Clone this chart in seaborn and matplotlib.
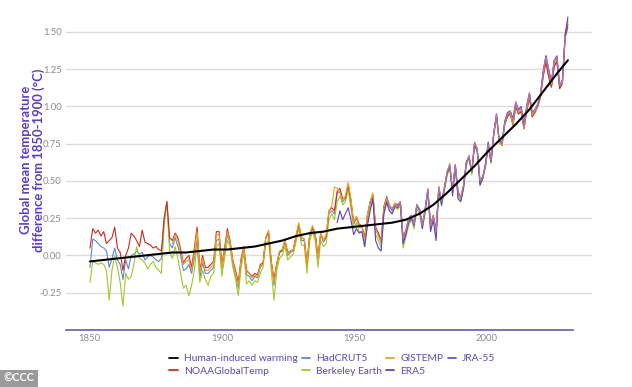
import numpy as np
import pandas as pd
import matplotlib.pyplot as plt
from matplotlib.lines import Line2D
import seaborn as sns

# annual anomalies vs 1850-1900 (degC)
hadcrut5 = [
    -0.08, 0.11, 0.10, 0.08, 0.06, 0.05, 0.03, -0.08, -0.02, 0.05,
    -0.03, -0.06, -0.16, -0.03, -0.09, 0.00, 0.01, 0.03, 0.01, 0.02,
    -0.03, -0.01, 0.00, -0.01, -0.03, -0.04, -0.02, 0.24, 0.36, 0.08,
    0.05, 0.12, 0.06, 0.00, -0.10, -0.09, -0.06, -0.12, -0.02, 0.10,
    -0.15, -0.05, -0.12, -0.12, -0.10, -0.08, 0.10, 0.11, -0.09, 0.02,
    0.14, 0.08, -0.06, -0.14, -0.22, -0.05, 0.04, -0.13, -0.14, -0.17,
    -0.14, -0.15, -0.08, -0.06, 0.12, 0.15, -0.05, -0.20, -0.06, 0.02,
    0.03, 0.09, 0.00, 0.02, 0.03, 0.12, 0.20, 0.10, 0.10, -0.08,
    0.13, 0.18, 0.13, -0.03, 0.14, 0.09, 0.12, 0.28, 0.30, 0.28,
    0.42, 0.43, 0.36, 0.38, 0.48, 0.36, 0.21, 0.25, 0.19, 0.19,
    0.11, 0.26, 0.35, 0.40, 0.18, 0.14, 0.08, 0.31, 0.38, 0.33,
    0.30, 0.34, 0.33, 0.36, 0.10, 0.16, 0.23, 0.26, 0.21, 0.33,
    0.30, 0.20, 0.30, 0.43, 0.20, 0.26, 0.16, 0.45, 0.35, 0.44,
    0.54, 0.60, 0.43, 0.60, 0.42, 0.38, 0.46, 0.61, 0.66, 0.55,
    0.75, 0.70, 0.49, 0.52, 0.60, 0.74, 0.62, 0.81, 0.93, 0.76,
    0.74, 0.88, 0.94, 0.96, 0.87, 1.00, 0.95, 0.97, 0.85, 0.97,
    1.06, 0.93, 0.96, 1.00, 1.06, 1.21, 1.30, 1.20, 1.13, 1.27,
    1.30, 1.12, 1.15, 1.46, 1.53]

noaa = [
    0.05, 0.18, 0.15, 0.17, 0.13, 0.16, 0.08, 0.10, 0.12, 0.19,
    0.05, 0.02, -0.10, 0.00, 0.05, 0.15, 0.13, 0.10, 0.06, 0.17,
    0.09, 0.08, 0.07, 0.05, 0.06, 0.04, 0.03, 0.25, 0.36, 0.12,
    0.10, 0.15, 0.12, 0.04, -0.05, -0.02, 0.00, -0.08, 0.05, 0.19,
    -0.10, 0.00, -0.08, -0.08, -0.06, -0.04, 0.16, 0.16, -0.06, 0.05,
    0.18, 0.10, -0.03, -0.10, -0.18, -0.02, 0.06, -0.10, -0.12, -0.14,
    -0.12, -0.13, -0.06, -0.05, 0.12, 0.16, -0.04, -0.16, -0.05, 0.02,
    0.04, 0.10, 0.02, 0.03, 0.04, 0.13, 0.21, 0.12, 0.11, -0.05,
    0.14, 0.19, 0.15, -0.01, 0.15, 0.10, 0.13, 0.30, 0.32, 0.30,
    0.43, 0.45, 0.38, 0.39, 0.47, 0.37, 0.22, 0.26, 0.21, 0.20,
    0.12, 0.27, 0.36, 0.41, 0.19, 0.15, 0.10, 0.33, 0.39, 0.34,
    0.31, 0.35, 0.34, 0.36, 0.12, 0.17, 0.25, 0.27, 0.22, 0.34,
    0.31, 0.21, 0.31, 0.44, 0.21, 0.27, 0.17, 0.46, 0.36, 0.45,
    0.55, 0.60, 0.44, 0.61, 0.43, 0.39, 0.47, 0.62, 0.66, 0.56,
    0.74, 0.70, 0.50, 0.53, 0.60, 0.73, 0.63, 0.82, 0.94, 0.76,
    0.74, 0.88, 0.93, 0.95, 0.88, 1.00, 0.95, 0.96, 0.85, 0.97,
    1.06, 0.93, 0.96, 1.00, 1.06, 1.20, 1.30, 1.20, 1.13, 1.27,
    1.30, 1.12, 1.16, 1.47, 1.55]

berkeley = [
    -0.18, -0.04, -0.05, -0.06, -0.05, -0.06, -0.10, -0.30, -0.10, 0.00,
    -0.08, -0.18, -0.34, -0.12, -0.16, -0.14, -0.06, 0.06, -0.02, -0.03,
    -0.05, -0.09, -0.06, -0.04, -0.08, -0.10, -0.12, 0.20, 0.36, 0.02,
    -0.02, 0.06, -0.02, -0.12, -0.22, -0.20, -0.27, -0.20, -0.10, 0.08,
    -0.18, -0.10, -0.16, -0.20, -0.14, -0.12, 0.06, 0.08, -0.14, -0.02,
    0.10, 0.06, -0.08, -0.16, -0.27, -0.08, 0.02, -0.19, -0.17, -0.20,
    -0.17, -0.18, -0.12, -0.08, 0.08, 0.10, -0.10, -0.30, -0.10, -0.02,
    0.00, 0.06, -0.03, -0.01, 0.01, 0.09, 0.18, 0.07, 0.07, -0.12,
    0.10, 0.16, 0.10, -0.08, 0.10, 0.06, 0.08, 0.24, 0.28, 0.24,
    0.36, 0.40, 0.34, 0.36, 0.44, 0.32, 0.18, 0.22, 0.16, 0.16,
    0.06, 0.22, 0.32, 0.38, 0.14, 0.10, 0.05, 0.28, 0.35, 0.30,
    0.28, 0.32, 0.31, 0.33, 0.05, 0.12, 0.20, 0.24, 0.18, 0.31,
    0.28, 0.18, 0.28, 0.42, 0.18, 0.24, 0.14, 0.44, 0.33, 0.43,
    0.53, 0.59, 0.42, 0.59, 0.40, 0.37, 0.45, 0.60, 0.66, 0.54,
    0.76, 0.71, 0.48, 0.51, 0.60, 0.76, 0.62, 0.80, 0.94, 0.76,
    0.74, 0.89, 0.95, 0.96, 0.87, 1.01, 0.96, 0.99, 0.86, 0.98,
    1.08, 0.94, 0.97, 1.01, 1.07, 1.22, 1.32, 1.22, 1.14, 1.28,
    1.32, 1.13, 1.16, 1.48, 1.57]

gistemp = [  # from 1880
    0.08, 0.14, 0.10, 0.02, -0.06, -0.04, -0.03, -0.10, 0.02, 0.16,
    -0.11, -0.02, -0.10, -0.10, -0.08, -0.06, 0.14, 0.14, -0.08, 0.04,
    0.16, 0.09, -0.04, -0.12, -0.20, -0.03, 0.05, -0.11, -0.12, -0.15,
    -0.13, -0.14, -0.07, -0.06, 0.12, 0.17, -0.04, -0.18, -0.06, 0.03,
    0.04, 0.10, 0.01, 0.03, 0.04, 0.13, 0.22, 0.12, 0.11, -0.06,
    0.14, 0.20, 0.15, -0.02, 0.15, 0.10, 0.14, 0.30, 0.33, 0.46,
    0.45, 0.42, 0.37, 0.40, 0.49, 0.38, 0.22, 0.26, 0.20, 0.20,
    0.10, 0.27, 0.36, 0.42, 0.18, 0.13, 0.09, 0.32, 0.38, 0.34,
    0.30, 0.35, 0.33, 0.36, 0.10, 0.15, 0.24, 0.26, 0.21, 0.34,
    0.31, 0.20, 0.30, 0.44, 0.20, 0.26, 0.16, 0.46, 0.36, 0.45,
    0.56, 0.62, 0.44, 0.61, 0.42, 0.38, 0.47, 0.62, 0.67, 0.56,
    0.76, 0.72, 0.50, 0.52, 0.61, 0.75, 0.63, 0.81, 0.94, 0.76,
    0.74, 0.89, 0.95, 0.96, 0.88, 1.02, 0.96, 0.98, 0.85, 0.98,
    1.08, 0.94, 0.97, 1.00, 1.07, 1.22, 1.34, 1.24, 1.15, 1.30,
    1.33, 1.14, 1.16, 1.49, 1.58]

era5 = [  # from 1940
    0.22, 0.30, 0.24, 0.28, 0.32, 0.24, 0.14, 0.18, 0.15, 0.16,
    0.06, 0.20, 0.30, 0.38, 0.10, 0.05, 0.03, 0.28, 0.36, 0.30,
    0.28, 0.33, 0.32, 0.35, 0.08, 0.14, 0.22, 0.25, 0.20, 0.34,
    0.30, 0.18, 0.30, 0.44, 0.16, 0.24, 0.10, 0.44, 0.34, 0.45,
    0.56, 0.60, 0.40, 0.60, 0.38, 0.36, 0.45, 0.63, 0.66, 0.56,
    0.75, 0.70, 0.47, 0.52, 0.62, 0.76, 0.63, 0.82, 0.95, 0.77,
    0.76, 0.90, 0.96, 0.97, 0.92, 1.03, 0.98, 1.00, 0.87, 1.01,
    1.09, 0.96, 0.98, 1.01, 1.08, 1.24, 1.34, 1.25, 1.17, 1.31,
    1.34, 1.14, 1.18, 1.48, 1.60]

jra55 = [  # 1958-2023
    0.40, 0.33,
    0.30, 0.34, 0.33, 0.36, 0.12, 0.16, 0.24, 0.27, 0.21, 0.34,
    0.31, 0.20, 0.31, 0.45, 0.20, 0.26, 0.16, 0.46, 0.36, 0.45,
    0.56, 0.61, 0.44, 0.61, 0.42, 0.39, 0.47, 0.62, 0.67, 0.56,
    0.76, 0.71, 0.50, 0.53, 0.61, 0.75, 0.64, 0.82, 0.95, 0.77,
    0.75, 0.89, 0.95, 0.97, 0.90, 1.03, 0.97, 0.99, 0.86, 1.00,
    1.09, 0.95, 0.98, 1.02, 1.08, 1.23, 1.33, 1.24, 1.16, 1.31,
    1.33, 1.14, 1.17, 1.48]

human_years = list(range(1850, 2021, 5)) + [2024]
human = [-0.04, -0.03, -0.02, -0.01, 0.00, 0.01, 0.02, 0.02, 0.03, 0.04,
         0.04, 0.05, 0.06, 0.08, 0.10, 0.13, 0.15, 0.16, 0.18, 0.19,
         0.20, 0.21, 0.22, 0.24, 0.28, 0.34, 0.42, 0.51, 0.60, 0.70,
         0.79, 0.88, 0.98, 1.10, 1.22, 1.31]

series = [
    ('HadCRUT5', 1850, hadcrut5, '#5f86d4'),
    ('Berkeley Earth', 1850, berkeley, '#a2c62c'),
    ('NOAAGlobalTemp', 1850, noaa, '#d7261e'),
    ('GISTEMP', 1880, gistemp, '#eba21c'),
    ('ERA5', 1940, era5, '#5b3fd0'),
    ('JRA-55', 1958, jra55, '#b07aac'),
]
colors = {name: col for name, _, _, col in series}
colors['Human-induced warming'] = 'black'
legend_colors = dict(colors, **{'JRA-55': '#6a55c8'})

sns.set_style('white')
plt.rcParams['font.family'] = ['Lato', 'DejaVu Sans']

fig = plt.figure(figsize=(6.32, 3.87), dpi=100)
ax = fig.add_axes([0.1044, 0.1473, 0.832, 0.828])

for name, start, vals, col in series:
    yrs = np.arange(start, start + len(vals))
    sns.lineplot(x=yrs, y=vals, ax=ax, color=col, lw=0.8, legend=False)
sns.lineplot(x=human_years, y=human, ax=ax, color='black', lw=1.5, legend=False)

ax.set_xlim(1841.26, 2032.7)
ax.set_ylim(-0.5, 1.65)
ax.set_yticks([-0.25, 0, 0.25, 0.5, 0.75, 1.0, 1.25, 1.5])
ax.set_yticklabels(['-0.25', '0.00', '0.25', '0.50', '0.75', '1.00', '1.25', '1.50'])
ax.set_xticks([1849.6, 1898.1, 1946.1, 1994.2])
ax.set_xticklabels(['1850', '1900', '1950', '2000'])
ax.grid(axis='y', color='#dcdcdc', lw=1)
ax.tick_params(axis='both', length=0, labelsize=6.8, labelcolor='#8c8c8c', pad=3)
for s in ['top', 'right', 'left']:
    ax.spines[s].set_visible(False)
ax.spines['bottom'].set_color('#6a5aa8')
ax.spines['bottom'].set_linewidth(1.2)
ax.spines['bottom'].set_bounds(1841.26, 2025.8)
ax.set_xlabel('')
ax.set_ylabel('Global mean temperature\ndifference from 1850-1900 (°C)',
              color='#5b3cc4', fontsize=9.4, fontweight='bold', linespacing=1.05)
ax.yaxis.set_label_coords(-0.04, 0.53)

order = ['Human-induced warming', 'NOAAGlobalTemp', 'HadCRUT5', 'Berkeley Earth',
         'GISTEMP', 'ERA5', 'JRA-55']
h = [Line2D([], [], color=legend_colors[o], lw=1.3) for o in order]
leg = fig.legend(h, order, loc='upper left', bbox_to_anchor=(0.268, 0.085),
                 ncol=4, frameon=False, fontsize=7.4, handlelength=0.8,
                 handletextpad=0.6, columnspacing=0.4, labelspacing=0.3,
                 borderaxespad=0, borderpad=0)
for t in leg.get_texts():
    t.set_color('#5b4bb5')

fig.text(0.006, 0.013, '©CCC', fontsize=8, color='white', fontweight='bold',
         bbox=dict(boxstyle='square,pad=0.3', fc='#9a9a9a', ec='none'))

fig.savefig('out.png', dpi=100)
